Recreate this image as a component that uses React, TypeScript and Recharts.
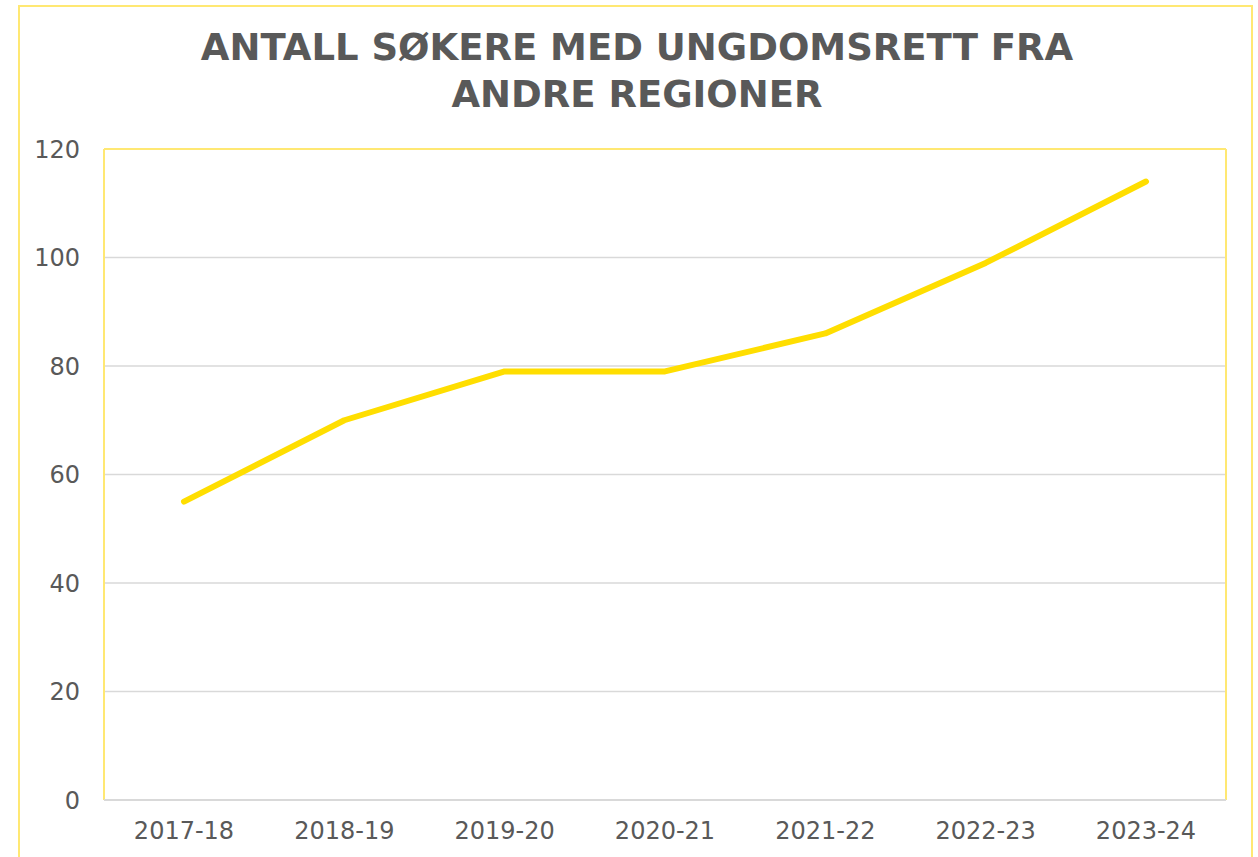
import React from "react";
import { LineChart, Line, XAxis, YAxis, CartesianGrid, ReferenceLine } from "recharts";

const seasons = ["2017-18", "2018-19", "2019-20", "2020-21", "2021-22", "2022-23", "2023-24"];
const applicants = [55, 70, 79, 79, 86, 99, 114];
const yTicks = [0, 20, 40, 60, 80, 100, 120];
const titleLines = ["ANTALL SØKERE MED UNGDOMSRETT FRA", "ANDRE REGIONER"];

const data = seasons.map((s, i) => ({ season: s, value: applicants[i] }));

const FONT = "'DejaVu Sans', Verdana, sans-serif";
const TEXT = "#595959";
const FRAME = "#FFE873";

const frameEdges = (props: any) => {
  const o = props.offset;
  return [o.left, o.left + o.width];
};

export default function App() {
  return (
    <div style={{ position: "absolute", left: 0, top: 0, width: 1258, height: 857, background: "#fff", overflow: "hidden" }}>
      <div
        style={{
          position: "absolute",
          left: 18,
          top: 5,
          width: 1235,
          height: 900,
          border: `2px solid ${FRAME}`,
          boxSizing: "border-box",
        }}
      />
      <div
        style={{
          position: "absolute",
          left: 0,
          top: 24,
          width: 1274,
          textAlign: "center",
          fontFamily: FONT,
          fontWeight: "bold",
          fontSize: 37,
          lineHeight: "47px",
          color: TEXT,
        }}
      >
        {titleLines.map((t) => (
          <div key={t}>{t}</div>
        ))}
      </div>
      <div style={{ position: "absolute", left: 0, top: 0 }}>
        <LineChart width={1258} height={857} data={data} margin={{ top: 149, right: 32, bottom: 0, left: 0 }}>
          <CartesianGrid vertical={false} stroke="#D9D9D9" strokeWidth={1.5} />
          <CartesianGrid
            horizontal={false}
            verticalCoordinatesGenerator={frameEdges}
            stroke={FRAME}
            strokeWidth={2}
            strokeDasharray=""
          />
          <ReferenceLine y={120} stroke={FRAME} strokeWidth={2} />
          <XAxis
            dataKey="season"
            height={57}
            padding={{ left: 80, right: 80 }}
            axisLine={{ stroke: "#D9D9D9", strokeWidth: 2 }}
            tickLine={false}
            tickSize={0}
            tickMargin={22}
            tick={{ fill: TEXT, fontSize: 24, fontFamily: FONT }}
            interval={0}
          />
          <YAxis
            domain={[0, 120]}
            ticks={yTicks}
            width={104}
            axisLine={false}
            tickLine={false}
            tickSize={0}
            tickMargin={24}
            tick={{ fill: TEXT, fontSize: 24, fontFamily: FONT }}
          />
          <Line
            type="linear"
            dataKey="value"
            stroke="#FFDE00"
            strokeWidth={6}
            strokeLinecap="round"
            strokeLinejoin="round"
            dot={false}
            activeDot={false}
            isAnimationActive={false}
          />
        </LineChart>
      </div>
    </div>
  );
}
